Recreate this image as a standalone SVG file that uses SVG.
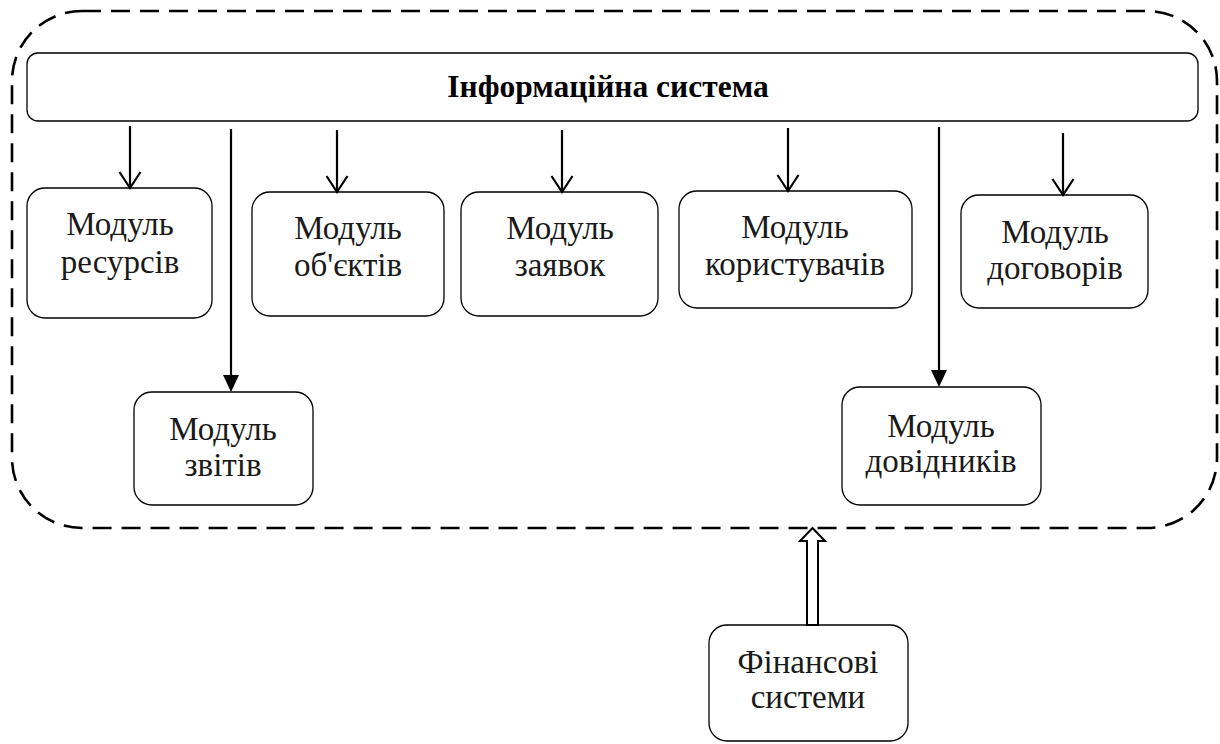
<svg xmlns="http://www.w3.org/2000/svg" width="1220" height="744" viewBox="0 0 1220 744">
<style>
.node rect{fill:#fff;stroke:#000;stroke-width:1.3}
text{font-family:"Liberation Serif","Tinos","Times New Roman","DejaVu Serif",serif}
.lbl{font-size:33px;fill:#1a1a1a;text-anchor:middle}
.title{font-size:31.5px;font-weight:bold;fill:#000;text-anchor:middle}
.ln{stroke:#000;stroke-width:2.2;fill:none}
.open{stroke:#000;stroke-width:2.2;fill:none}
.solid{fill:#000;stroke:none}
</style>
<rect id="boundary" x="12" y="11" width="1205" height="517" rx="70" ry="70" fill="none" stroke="#000" stroke-width="2.6" stroke-dasharray="19 10"/>
<g id="is" class="node"><rect x="27" y="53" width="1171" height="68" rx="11"/><text class="title" x="608" y="97">Інформаційна система</text></g>
<g id="res" class="node"><rect x="27" y="188" width="185" height="130" rx="18"/><text class="lbl" x="120" y="235">Модуль</text><text class="lbl" x="120" y="273">ресурсів</text></g>
<g id="zvit" class="node"><rect x="134" y="392" width="179" height="113" rx="18"/><text class="lbl" x="223" y="440">Модуль</text><text class="lbl" x="223" y="476">звітів</text></g>
<g id="obj" class="node"><rect x="252" y="192" width="192" height="124" rx="18"/><text class="lbl" x="348" y="239">Модуль</text><text class="lbl" x="348" y="276">об'єктів</text></g>
<g id="zay" class="node"><rect x="461" y="192" width="197" height="124" rx="18"/><text class="lbl" x="560" y="239">Модуль</text><text class="lbl" x="560" y="276">заявок</text></g>
<g id="kor" class="node"><rect x="679" y="191" width="233" height="117" rx="18"/><text class="lbl" x="795" y="238">Модуль</text><text class="lbl" x="795" y="275">користувачів</text></g>
<g id="dog" class="node"><rect x="961" y="195" width="187" height="113" rx="18"/><text class="lbl" x="1055" y="243">Модуль</text><text class="lbl" x="1055" y="279">договорів</text></g>
<g id="dov" class="node"><rect x="842" y="387" width="199" height="118" rx="18"/><text class="lbl" x="941" y="437">Модуль</text><text class="lbl" x="941" y="472">довідників</text></g>
<g id="fin" class="node"><rect x="709" y="625" width="199" height="116" rx="18"/><text class="lbl" x="808" y="673">Фінансові</text><text class="lbl" x="808" y="708">системи</text></g>
<g id="connectors">
<line class="ln" x1="130" y1="126" x2="130" y2="187"/><polyline class="open" points="119.5,172 130,188 140.5,172"/>
<line class="ln" x1="337" y1="130" x2="337" y2="191"/><polyline class="open" points="326.5,176 337,192 347.5,176"/>
<line class="ln" x1="562" y1="130" x2="562" y2="191"/><polyline class="open" points="551.5,176 562,192 572.5,176"/>
<line class="ln" x1="788" y1="128" x2="788" y2="190"/><polyline class="open" points="777.5,175 788,191 798.5,175"/>
<line class="ln" x1="1063" y1="133" x2="1063" y2="194"/><polyline class="open" points="1052.5,179 1063,195 1073.5,179"/>
<line class="ln" x1="231" y1="129" x2="231" y2="378"/><polygon class="solid" points="223,375 239,375 231,392"/>
<line class="ln" x1="939" y1="127" x2="939" y2="373"/><polygon class="solid" points="931,370 947,370 939,387"/>
<polygon points="807,625 807,541 800,541 812.5,528 825,541 818,541 818,625" fill="#fff" stroke="#000" stroke-width="2"/>
</g>
</svg>
